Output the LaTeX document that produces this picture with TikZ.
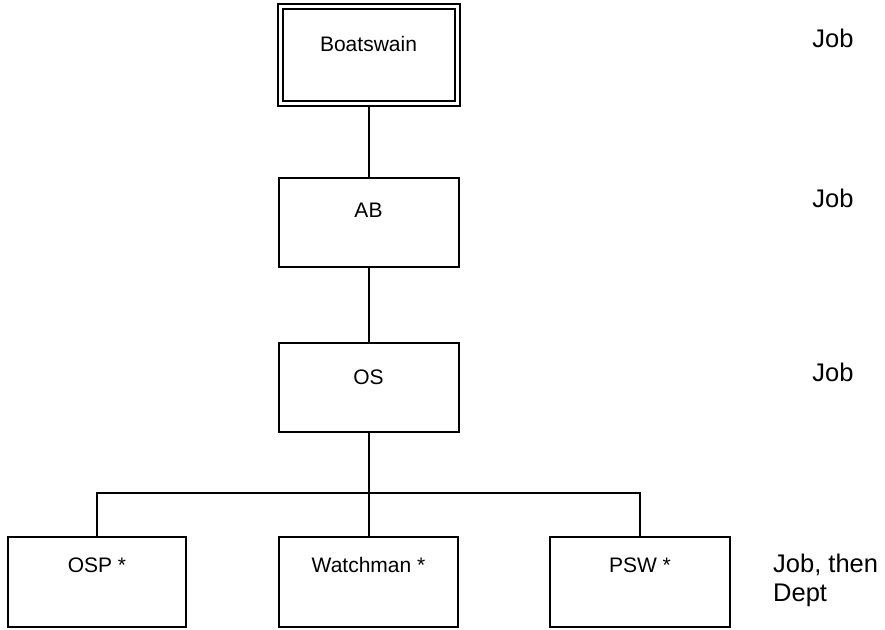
\documentclass[tikz,border=0pt]{standalone}
\usepackage{fontspec}
\setmainfont{Liberation Sans}
\begin{document}
\begin{tikzpicture}[x=1pt,y=-1pt]
\tikzset{
  box/.style={draw=black, line width=2pt, minimum width=180pt, minimum height=89pt, inner sep=0pt},
  topbox/.style={draw=black, line width=2pt, double, double distance=3pt, minimum width=177pt, minimum height=97pt, inner sep=0pt},
  boxtext/.style={font=\fontsize{21}{25}\selectfont, inner sep=0pt},
  sidetext/.style={font=\fontsize{25.5}{29}\selectfont, inner sep=0pt},
  conn/.style={draw=black, line width=2pt}
}
\useasboundingbox (0,0) rectangle (885,629);
\fill[white] (0,0) rectangle (885,629);

\node[topbox] (bos) at (368.5,55) {};
\node[boxtext] (bost) at (368.5,44) {Boatswain};
\node[box] (ab) at (368.5,222) {};
\node[boxtext] (abt) at (368.5,210) {AB};
\node[box] (os) at (368.5,387.5) {};
\node[boxtext] (ost) at (368.5,377) {OS};

\node[box, minimum width=178pt, minimum height=90pt] (osp) at (97,582) {};
\node[boxtext] (ospt) at (97,565) {OSP *};
\node[box, minimum width=179pt, minimum height=90pt] (wat) at (368.5,582) {};
\node[boxtext] (watt) at (368.5,565) {Watchman *};
\node[box, minimum width=180pt, minimum height=90pt] (psw) at (640,582) {};
\node[boxtext] (pswt) at (640,565) {PSW *};

\coordinate (bus) at (368.5,493);

\draw[conn] (bos.south) -- (ab.north);
\draw[conn] (ab.south) -- (os.north);
\draw[conn] (os.south) -- (bus);
\draw[conn] (osp.north) |- (bus) -| (psw.north);
\draw[conn] (bus) -- (wat.north);

\node[sidetext] (j1) at (833,38) {Job};
\node[sidetext] (j2) at (833,198) {Job};
\node[sidetext] (j3) at (833,372) {Job};
\node[sidetext, align=left, anchor=west] (j4) at (773,580) {Job, then\\Dept};
\end{tikzpicture}
\end{document}
